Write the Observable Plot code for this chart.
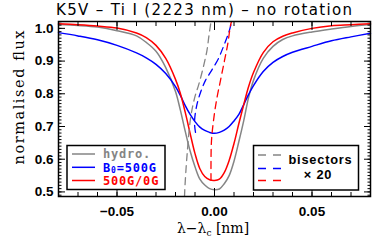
<!DOCTYPE html>
<html><head><meta charset="utf-8">
<script src="https://cdn.jsdelivr.net/npm/d3@7"></script>
<script src="https://cdn.jsdelivr.net/npm/@observablehq/plot@0.6"></script>
<style>body{margin:0;background:#fff} svg{display:block}</style>
</head><body><div id="chart"></div>
<script>
// wavelength offset from line centre [nm]
const wavelength = [-0.08,-0.07,-0.06,-0.05,-0.04,-0.035,-0.03,-0.025,-0.02,-0.0175,-0.015,-0.0125,-0.01,-0.0075,-0.005,-0.0025,0,
  0.0025,0.005,0.0075,0.01,0.0125,0.015,0.0175,0.02,0.025,0.03,0.035,0.04,0.05,0.06,0.07,0.08];
const fluxHydro = [1.012,1.009,1.004,0.993,0.977,0.957,0.930,0.880,0.807,0.750,0.685,0.625,0.577,0.539,0.521,0.510,0.507,
  0.509,0.525,0.550,0.594,0.654,0.718,0.789,0.841,0.908,0.945,0.966,0.977,0.989,0.998,1.006,1.012];
const fluxB500 = [0.987,0.977,0.965,0.948,0.925,0.910,0.890,0.862,0.822,0.795,0.764,0.737,0.715,0.698,0.688,0.682,0.679,
  0.682,0.689,0.700,0.717,0.737,0.767,0.798,0.825,0.868,0.896,0.914,0.927,0.945,0.962,0.974,0.985];
const flux500G0G = [1.014,1.011,1.007,1.001,0.986,0.972,0.948,0.908,0.844,0.801,0.743,0.679,0.617,0.571,0.547,0.537,0.535,
  0.539,0.559,0.596,0.648,0.709,0.767,0.822,0.865,0.926,0.959,0.976,0.986,1.000,1.008,1.011,1.014];

// bisectors (position magnified x20) and flux level
const bisHydroX = [-0.01538,-0.01513,-0.01410,-0.01231,-0.01026,-0.00805,-0.00564,-0.00385,-0.00282,-0.00179];
const bisHydroY = [0.486,0.519,0.611,0.724,0.786,0.829,0.884,0.933,0.979,1.021];
const bisB500X = [-0.00974,-0.01026,-0.00923,-0.00718,-0.00462,-0.00154,0.00205,0.00462,0.00718,0.00872];
const bisB500Y = [0.682,0.712,0.761,0.804,0.841,0.871,0.908,0.945,0.985,1.018];
const bis500G0GX = [-0.00179,-0.00179,-0.00154,-0.00051,0.00103,0.00308,0.00513,0.00667,0.00821,0.00872];
const bis500G0GY = [0.535,0.596,0.657,0.718,0.780,0.841,0.902,0.948,1.009,1.021];

const xMajorTicks = [-0.05, 0, 0.05];
const xMinorTicks = [-0.08,-0.07,-0.06,-0.05,-0.04,-0.03,-0.02,-0.01,0,0.01,0.02,0.03,0.04,0.05,0.06,0.07,0.08];
const yMajorTicks = [0.5,0.6,0.7,0.8,0.9,1.0];
const yMinorTicks = d3.range(49,103).map(d => d/100);

const seriesColors = {hydro: "#858585", b500: "#0000ff", g500: "#ff0000"};

const profile = (ys) => wavelength.map((x, i) => ({x, y: ys[i]}));
const bis = (xs, ys) => xs.map((x, i) => ({x, y: ys[i]}));

const tickFont = "Liberation Sans, Arial, sans-serif";
const W = 387, H = 246, mL = 58, mR = 17, mT = 21, mB = 50;

const plot = Plot.plot({
  width: W, height: H,
  marginLeft: mL, marginRight: mR, marginTop: mT, marginBottom: mB,
  style: {fontFamily: tickFont, fontSize: "13px", background: "white", color: "black"},
  x: {domain: [-0.08, 0.08]},
  y: {domain: [0.486, 1.021]},
  marks: [
    Plot.line(profile(fluxHydro), {x: "x", y: "y", stroke: seriesColors.hydro, strokeWidth: 1.5, curve: "catmull-rom"}),
    Plot.line(profile(fluxB500), {x: "x", y: "y", stroke: seriesColors.b500, strokeWidth: 1.5, curve: "catmull-rom"}),
    Plot.line(profile(flux500G0G), {x: "x", y: "y", stroke: seriesColors.g500, strokeWidth: 1.5, curve: "catmull-rom"}),
    Plot.line(bis(bisHydroX, bisHydroY), {x: "x", y: "y", stroke: seriesColors.hydro, strokeWidth: 1.3, strokeDasharray: "7,5", curve: "catmull-rom", clip: true}),
    Plot.line(bis(bisB500X, bisB500Y), {x: "x", y: "y", stroke: seriesColors.b500, strokeWidth: 1.3, strokeDasharray: "7,5", curve: "catmull-rom", clip: true}),
    Plot.line(bis(bis500G0GX, bis500G0GY), {x: "x", y: "y", stroke: seriesColors.g500, strokeWidth: 1.3, strokeDasharray: "7,5", curve: "catmull-rom", clip: true}),
    // tick labels
    Plot.axisX({ticks: xMajorTicks, tickSize: 0, tickPadding: 10, tickFormat: d3.format(".2f"), fontWeight: "bold", fontSize: 13.5, label: null}),
    Plot.axisY({ticks: yMajorTicks, tickSize: 0, tickPadding: 5, tickFormat: d3.format(".1f"), fontWeight: "bold", fontSize: 13.5, label: null}),
    // inward ticks on all four sides
    Plot.axisX({anchor: "bottom", ticks: xMinorTicks, tickSize: -4, fill: "none", label: null}),
    Plot.axisX({anchor: "top", ticks: xMinorTicks, tickSize: -4, fill: "none", label: null}),
    Plot.axisX({anchor: "bottom", ticks: xMajorTicks, tickSize: -8, fill: "none", label: null}),
    Plot.axisX({anchor: "top", ticks: xMajorTicks, tickSize: -8, fill: "none", label: null}),
    Plot.axisY({anchor: "left", ticks: yMinorTicks, tickSize: -3.5, fill: "none", label: null}),
    Plot.axisY({anchor: "right", ticks: yMinorTicks, tickSize: -3.5, fill: "none", label: null}),
    Plot.axisY({anchor: "left", ticks: yMajorTicks, tickSize: -7, fill: "none", label: null}),
    Plot.axisY({anchor: "right", ticks: yMajorTicks, tickSize: -7, fill: "none", label: null}),
    Plot.frame({stroke: "black", strokeWidth: 1.5})
  ]
});
document.getElementById("chart").appendChild(plot);

const svg = d3.select(plot);
const fL = mL, fR = W - mR, fT = mT, fB = H - mB;

// helper: write a sequence of text runs (with optional subscripts) as separate text elements
function runs(parent, x, y, parts, attrs) {
  let cx = x;
  parts.forEach(p => {
    const t = parent.append("text").attr("x", cx).attr("y", y + (p.sub ? p.dy : 0))
      .attr("text-anchor", "start");
    Object.entries(attrs).forEach(([k, v]) => t.attr(k, v));
    if (p.sub) t.attr("font-size", p.size);
    t.text(p.t);
    cx += t.node().getComputedTextLength();
  });
  return cx - x;
}

// title
svg.append("text").attr("x", 204).attr("y", 15).attr("text-anchor", "middle")
  .attr("font-family", "DejaVu Sans, sans-serif").attr("font-size", 15).attr("fill", "black")
  .attr("textLength", 296).attr("lengthAdjust", "spacing")
  .text("K5V – Ti I (2223 nm) – no rotation");

// y axis title
svg.append("text").attr("transform", `translate(23.5,${97.5}) rotate(-90)`).attr("text-anchor", "middle")
  .attr("font-family", "DejaVu Serif, serif").attr("font-size", 14.5).attr("fill", "black")
  .attr("textLength", 134).attr("lengthAdjust", "spacing")
  .text("normalised flux");

// x axis title (λ−λc [nm]) centred under the frame
{
  const g = svg.append("g");
  const a = {"font-family": "DejaVu Serif, serif", "font-size": 14, "fill": "black"};
  const w = runs(g, 0, 233, [{t: "λ−λ"}, {t: "c", sub: true, size: 9, dy: 3}, {t: " [nm]"}], a);
  g.attr("transform", `translate(${213 - w / 2},0)`);
}

// left legend
const legMono = "DejaVu Sans Mono, monospace";
const lg = svg.append("g");
lg.append("rect").attr("x", fL + 9).attr("y", 145.5).attr("width", 98).attr("height", 44)
  .attr("fill", "white").attr("stroke", "black").attr("stroke-width", 1.5);
const legItems = [
  {c: seriesColors.hydro, y: 154, parts: [{t: "hydro."}]},
  {c: seriesColors.b500, y: 167.3, parts: [{t: "B"}, {t: "0", sub: true, size: 8, dy: 1.5}, {t: "=500G"}]},
  {c: seriesColors.g500, y: 180.5, parts: [{t: "500G/0G"}]}
];
legItems.forEach(d => {
  lg.append("line").attr("x1", fL + 14).attr("x2", fL + 37).attr("y1", d.y).attr("y2", d.y)
    .attr("stroke", d.c).attr("stroke-width", 1.5);
  runs(lg, fL + 45, d.y + 4.4, d.parts,
    {"font-family": legMono, "font-weight": "bold", "font-size": 12, "letter-spacing": 0.8, "fill": d.c});
});

// right legend
const rg = svg.append("g");
rg.append("rect").attr("x", 253.5).attr("y", 145.5).attr("width", 105).attr("height", 44.5)
  .attr("fill", "white").attr("stroke", "black").attr("stroke-width", 1.5);
[{c: seriesColors.hydro, y: 155}, {c: seriesColors.b500, y: 168.5}, {c: seriesColors.g500, y: 180.5}].forEach(d => {
  rg.append("line").attr("x1", 258).attr("x2", 281).attr("y1", d.y).attr("y2", d.y)
    .attr("stroke", d.c).attr("stroke-width", 1.5).attr("stroke-dasharray", "8,7");
});
rg.append("text").attr("x", 320.5).attr("y", 164).attr("text-anchor", "middle")
  .attr("font-family", tickFont).attr("font-weight", "bold").attr("font-size", 12.8).attr("letter-spacing", 0.8).attr("fill", "black")
  .text("bisectors");
rg.append("text").attr("x", 318).attr("y", 178.5).attr("text-anchor", "middle")
  .attr("font-family", tickFont).attr("font-weight", "bold").attr("font-size", 12.8).attr("letter-spacing", 0.8).attr("fill", "black")
  .text("× 20");
</script>
</body></html>
